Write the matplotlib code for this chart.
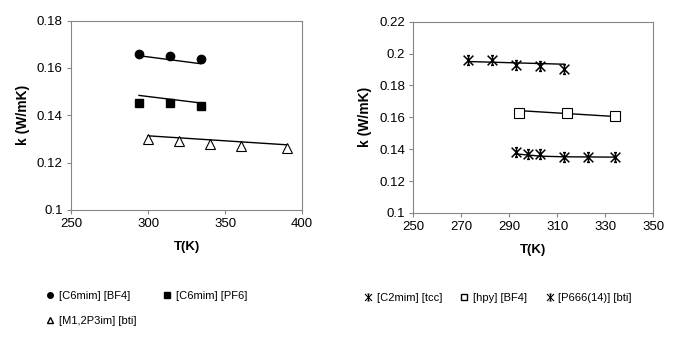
import numpy as np
import matplotlib.pyplot as plt
from matplotlib.lines import Line2D
from matplotlib.path import Path

plt.rcParams['font.family'] = ['Liberation Sans', 'DejaVu Sans']

# --- left panel data
t_bf4 = [294, 314, 334]
k_bf4 = [0.166, 0.165, 0.164]
t_pf6 = [294, 314, 334]
k_pf6 = [0.145, 0.145, 0.144]
t_m12 = [300, 320, 340, 360, 390]
k_m12 = [0.130, 0.129, 0.128, 0.127, 0.126]

# model lines (left)
fit_t_bf4 = [294, 334]
fit_k_bf4 = [0.1652, 0.1618]
fit_t_pf6 = [294, 334]
fit_k_pf6 = [0.1484, 0.1452]
fit_t_m12 = [300, 390]
fit_k_m12 = [0.1313, 0.1275]

# --- right panel data
t_tcc = [273, 283, 293, 303, 313]
k_tcc = [0.196, 0.196, 0.193, 0.192, 0.190]
t_hpy = [294, 314, 334]
k_hpy = [0.163, 0.163, 0.161]
t_p666 = [293, 298, 303, 313, 323, 334]
k_p666 = [0.138, 0.137, 0.137, 0.135, 0.135, 0.135]

# model lines (right)
fit_t_tcc = [273, 313]
fit_k_tcc = [0.1950, 0.1933]
fit_t_hpy = [294, 334]
fit_k_hpy = [0.1642, 0.1605]
fit_t_p666 = [293, 303, 313, 334]
fit_k_p666 = [0.1370, 0.1356, 0.1352, 0.1350]

axis_col = '#868686'

# excel style star: x + vertical bar + short caps
star = Path([(-1, -1), (1, 1), (-1, 1), (1, -1), (0, -1), (0, 1),
             (-0.3, 1), (0.3, 1), (-0.3, -1), (0.3, -1)],
            [Path.MOVETO, Path.LINETO] * 5)

fig = plt.figure(figsize=(6.98, 3.39), dpi=100)
ax1 = fig.add_axes([0.102, 0.381, 0.331, 0.558])
ax2 = fig.add_axes([0.592, 0.372, 0.344, 0.564])

# --- left plot
ax1.plot(fit_t_bf4, fit_k_bf4, color='black', lw=1)
ax1.plot(fit_t_pf6, fit_k_pf6, color='black', lw=1)
ax1.plot(fit_t_m12, fit_k_m12, color='black', lw=1)
ax1.plot(t_bf4, k_bf4, 'o', color='black', ms=6, ls='none')
ax1.plot(t_pf6, k_pf6, 's', color='black', ms=6, ls='none')
ax1.plot(t_m12, k_m12, '^', mfc='white', mec='black', ms=7, ls='none', mew=0.8)
ax1.set_xlim(250, 400)
ax1.set_ylim(0.1, 0.18)
ax1.set_xticks([250, 300, 350, 400])
ax1.set_yticks([0.1, 0.12, 0.14, 0.16, 0.18])
ax1.set_yticklabels(['0.1', '0.12', '0.14', '0.16', '0.18'])

# --- right plot
ax2.plot(fit_t_tcc, fit_k_tcc, color='black', lw=1)
ax2.plot(fit_t_hpy, fit_k_hpy, color='black', lw=1)
ax2.plot(fit_t_p666, fit_k_p666, color='black', lw=1)
ax2.plot(t_tcc, k_tcc, marker=star, color='black', ms=7, mew=1.1, ls='none')
ax2.plot(t_hpy, k_hpy, 's', mfc='white', mec='black', ms=7, mew=0.8, ls='none')
ax2.plot(t_p666, k_p666, marker=star, color='black', ms=7, mew=1.1, ls='none')
ax2.set_xlim(250, 350)
ax2.set_ylim(0.1, 0.22)
ax2.set_xticks([250, 270, 290, 310, 330, 350])
ax2.set_yticks([0.1, 0.12, 0.14, 0.16, 0.18, 0.2, 0.22])
ax2.set_yticklabels(['0.1', '0.12', '0.14', '0.16', '0.18', '0.2', '0.22'])

for ax in (ax1, ax2):
    for s in ax.spines.values():
        s.set_color(axis_col)
        s.set_linewidth(0.8)
    ax.tick_params(direction='out', length=3, width=0.8, color=axis_col,
                   labelsize=9.5, pad=3)
    ax.set_xlabel('T(K)', fontweight='bold', fontsize=9.5, labelpad=8)
    ax.set_ylabel('k (W/mK)', fontweight='bold', fontsize=10, labelpad=5)

# --- legends
h_bf4 = Line2D([], [], marker='o', color='black', ms=4, ls='none')
h_pf6 = Line2D([], [], marker='s', color='black', ms=4, ls='none')
h_m12 = Line2D([], [], marker='^', mfc='white', mec='black', ms=5, ls='none')
fig.legend([h_bf4, h_m12, h_pf6],
           ['[C6mim] [BF4]', '[M1,2P3im] [bti]', '[C6mim] [PF6]'],
           ncol=2, loc='upper left', bbox_to_anchor=(0.053, 0.17),
           frameon=False, fontsize=8, handlelength=0.6, handletextpad=0.5,
           columnspacing=2.4, labelspacing=1.3)

h_tcc = Line2D([], [], marker=star, color='black', ms=5, mew=0.8, ls='none')
h_hpy = Line2D([], [], marker='s', mfc='white', mec='black', ms=5, ls='none')
h_p666 = Line2D([], [], marker=star, color='black', ms=5, mew=0.8, ls='none')
fig.legend([h_tcc, h_hpy, h_p666],
           ['[C2mim] [tcc]', '[hpy] [BF4]', '[P666(14)] [bti]'],
           ncol=3, loc='upper left', bbox_to_anchor=(0.508, 0.165),
           frameon=False, fontsize=8, handlelength=0.6, handletextpad=0.5,
           columnspacing=1.7)

plt.savefig('out.png', dpi=100)
